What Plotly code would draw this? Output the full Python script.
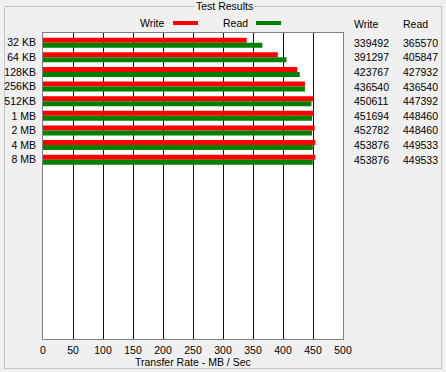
import plotly.graph_objects as go

categories = ["32 KB", "64 KB", "128KB", "256KB", "512KB", "1 MB", "2 MB", "4 MB", "8 MB"]
write_kbs = [339492, 391297, 423767, 436540, 450611, 451694, 452782, 453876, 453876]
read_kbs = [365570, 405847, 427932, 436540, 447392, 448460, 448460, 449533, 449533]
x_ticks = [0, 50, 100, 150, 200, 250, 300, 350, 400, 450, 500]

write_mb = [v / 1000 for v in write_kbs]
read_mb = [v / 1000 for v in read_kbs]

W, H = 446, 372
L, R, T, B = 43, 343, 33, 339
FONT = "Liberation Sans"
FS = 10.5


def px(x):
    return (x - L) / (R - L)


def py(y):
    return 1 - (y - T) / (B - T)


fig = go.Figure()
fig.add_trace(go.Bar(y=categories, x=write_mb, orientation="h", name="Write",
                     marker=dict(color="#ff0000", line=dict(width=0))))
fig.add_trace(go.Bar(y=categories, x=read_mb, orientation="h", name="Read",
                     marker=dict(color="#008000", line=dict(width=0))))

annotations = []
# column headers
annotations.append(dict(text="Write", x=px(352), y=py(24), xref="paper", yref="paper",
                        xanchor="left", yanchor="middle", showarrow=False))
annotations.append(dict(text="Read", x=px(401), y=py(24), xref="paper", yref="paper",
                        xanchor="left", yanchor="middle", showarrow=False))
for c, w, r in zip(categories, write_kbs, read_kbs):
    annotations.append(dict(text=str(w), x=px(352), y=c, xref="paper", yref="y",
                            xanchor="left", yanchor="middle", showarrow=False))
    annotations.append(dict(text=str(r), x=px(401), y=c, xref="paper", yref="y",
                            xanchor="left", yanchor="middle", showarrow=False))
# legend texts
annotations.append(dict(text="Write", x=px(166), y=py(23), xref="paper", yref="paper",
                        xanchor="right", yanchor="middle", showarrow=False))
annotations.append(dict(text="Read", x=px(250), y=py(23), xref="paper", yref="paper",
                        xanchor="right", yanchor="middle", showarrow=False))
# group box title
annotations.append(dict(text="Test Results", x=px(224), y=py(6), xref="paper", yref="paper",
                        xanchor="center", yanchor="middle", showarrow=False,
                        bgcolor="#f0f0f0", borderpad=1))
# axis title
annotations.append(dict(text="Transfer Rate - MB / Sec", x=0.5, y=py(362), xref="paper",
                        yref="paper", xanchor="center", yanchor="middle", showarrow=False))

shapes = [
    # group box
    dict(type="rect", xref="paper", yref="paper", x0=px(4.5), x1=px(441.5), y0=py(368.5),
         y1=py(6.5), line=dict(color="#c4c4c4", width=1), layer="below"),
    # legend swatches
    dict(type="rect", xref="paper", yref="paper", x0=px(173), x1=px(198), y0=py(25),
         y1=py(21), line=dict(width=0), fillcolor="#ff0000"),
    dict(type="rect", xref="paper", yref="paper", x0=px(256), x1=px(281), y0=py(25),
         y1=py(21), line=dict(width=0), fillcolor="#008000"),
]

row_h = 14.625
top_off = (42.7 - T) / row_h
total = (B - T) / row_h

fig.update_layout(
    width=W, height=H,
    autosize=False,
    margin=dict(l=L, r=W - R, t=T, b=H - B, pad=0, autoexpand=False),
    paper_bgcolor="#f0f0f0",
    plot_bgcolor="#ffffff",
    barmode="group",
    bargap=1 - 10 / row_h,
    bargroupgap=0,
    showlegend=False,
    font=dict(family=FONT, size=FS, color="#000000"),
    annotations=annotations,
    shapes=shapes,
    xaxis=dict(range=[0, 500], tickvals=x_ticks, ticktext=[str(t) for t in x_ticks],
               showgrid=True, gridcolor="#000080", gridwidth=1, zeroline=False,
               showline=True, linecolor="#808080", linewidth=1, mirror=True,
               ticks="", ticklabelstandoff=1, fixedrange=True, automargin=False),
    yaxis=dict(type="category", range=[total - top_off, -top_off],
               showgrid=False, zeroline=False, showline=True, linecolor="#808080",
               linewidth=1, mirror=True, ticks="", ticklabelstandoff=4, fixedrange=True,
               automargin=False),
)

fig.write_html(
    "out.html",
    config={"displayModeBar": False, "responsive": False},
    post_script="document.body.style.margin='0';document.body.style.overflow='hidden';"
                "document.documentElement.style.overflow='hidden';",
)
